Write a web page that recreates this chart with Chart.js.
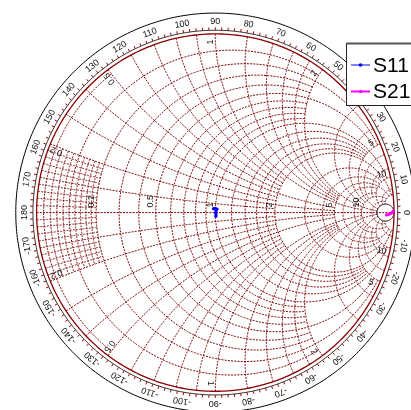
<!DOCTYPE html>
<html>
<head>
<meta charset="utf-8">
<script src="https://cdn.jsdelivr.net/npm/chart.js@4.4.1/dist/chart.umd.min.js"></script>
<style>
  html, body { margin: 0; padding: 0; background: #fff; overflow: hidden; }
  canvas { display: block; }
</style>
</head>
<body>
<canvas id="smith" width="411" height="410"></canvas>
<script>
// Constant-resistance circles and the |reactance| at which each one stops
const resistanceValues = [0.02, 0.04, 0.06, 0.08, 0.1, 0.12, 0.14, 0.16, 0.18, 0.2, 0.3, 0.4, 0.5, 0.6, 0.7, 0.8, 0.9, 1, 1.2, 1.4, 1.6, 1.8, 2, 3, 4, 5, 6, 8, 10, 15];
const resistanceLimits = [0.5, 0.2, 0.2, 0.2, 2, 0.2, 0.2, 0.2, 0.2, 5, 2, 2, 5, 2, 2, 2, 2, 10, 5, 5, 5, 5, 20, 10, 10, 20, 10, 10, 20, 20];

// Constant-reactance arcs (drawn for +x and -x) and the resistance at which each one stops
const reactanceValues = [0.02, 0.04, 0.06, 0.08, 0.1, 0.12, 0.14, 0.16, 0.18, 0.2, 0.3, 0.4, 0.5, 0.6, 0.7, 0.8, 0.9, 1, 1.2, 1.4, 1.6, 1.8, 2, 3, 4, 5, 6, 8, 10, 15, 20];
const reactanceLimits = [0.2, 0.2, 0.2, 0.2, 2, 0.2, 0.2, 0.2, 0.2, 5, 2, 2, 5, 2, 2, 2, 2, 10, 5, 5, 5, 5, 20, 10, 10, 20, 10, 10, 20, 20, 20];

// Resistance circle that closes the grid near the open-circuit point
const closingResistance = 20;

// Grid values that carry a label
const gridLabelValues = [0.2, 0.5, 1, 2, 5, 10];
const gridLabelTexts = ['0.2', '0.5', '1', '2', '5', '10'];

// Angle scale of the reflection coefficient, degrees
const angleTickValues = [0, 10, 20, 30, 40, 50, 60, 70, 80, 90, 100, 110, 120, 130, 140, 150, 160, 170, 180,
  -170, -160, -150, -140, -130, -120, -110, -100, -90, -80, -70, -60, -50, -40, -30, -20, -10];
const angleTickLabels = ['0', '10', '20', '30', '40', '50', '60', '70', '80', '90', '100', '110', '120', '130', '140', '150', '160', '170', '180',
  '-170', '-160', '-150', '-140', '-130', '-120', '-110', '-100', '-90', '-80', '-70', '-60', '-50', '-40', '-30', '-20', '-10'];

// Series names
const seriesNames = ['S11', 'S21'];

// Measured S-parameters (real and imaginary parts)
const s11Re = [-0.010, 0.000, 0.010, 0.004, 0.003, 0.003, 0.004, 0.003];
const s11Im = [0.022, 0.024, 0.020, 0.012, 0.004, -0.005, -0.013, -0.021];
const s21Re = [0.958, 0.968, 0.977, 0.985, 0.991, 0.995];
const s21Im = [-0.013, -0.011, -0.007, -0.003, 0.002, 0.008];

// Page layout: chart centre and unit-circle radius in pixels
const CX = 215.5, CY = 212.75, R = 182.25, W = 411, H = 410;

const GRID = 'rgb(125,0,0)';
const FONT = '"Liberation Sans", Arial, Helvetica, sans-serif';

// z = r + jx  ->  reflection coefficient
function gamma(r, x) {
  const a = r - 1, c = r + 1;
  const den = c * c + x * x;
  return [(a * c + x * x) / den, (x * c - a * x) / den];
}

const smithGrid = {
  id: 'smithGrid',
  beforeDatasetsDraw(chart) {
    const ctx = chart.ctx;
    const xs = chart.scales.x, ys = chart.scales.y;
    const P = (gx, gy) => [xs.getPixelForValue(gx), ys.getPixelForValue(gy)];

    function polyline(pts) {
      ctx.beginPath();
      pts.forEach((p, i) => {
        const q = P(p[0], p[1]);
        if (i === 0) ctx.moveTo(q[0], q[1]); else ctx.lineTo(q[0], q[1]);
      });
      ctx.stroke();
    }
    function circleArc(cx, cy, rho, a0, a1, n) {
      const pts = [];
      for (let i = 0; i <= n; i++) {
        const a = a0 + (a1 - a0) * i / n;
        pts.push([cx + rho * Math.cos(a), cy + rho * Math.sin(a)]);
      }
      return pts;
    }

    ctx.save();
    ctx.lineWidth = 1;
    ctx.strokeStyle = GRID;
    ctx.setLineDash([2, 1.2]);

    // resistance circles
    resistanceValues.forEach((r, i) => {
      const cr = r / (1 + r), rho = 1 / (1 + r);
      const g = gamma(r, resistanceLimits[i]);
      const a = Math.atan2(g[1], g[0] - cr);
      polyline(circleArc(cr, 0, rho, a, 2 * Math.PI - a, 240));
    });

    // reactance arcs
    reactanceValues.forEach((x, i) => {
      [1, -1].forEach(s => {
        const xv = s * x;
        const cy = 1 / xv, rho = 1 / x;
        const g0 = gamma(0, xv), g1 = gamma(reactanceLimits[i], xv);
        const a0 = Math.atan2(g0[1] - cy, g0[0] - 1);
        const a1 = Math.atan2(g1[1] - cy, g1[0] - 1);
        let d = a1 - a0;
        while (d > Math.PI) d -= 2 * Math.PI;
        while (d < -Math.PI) d += 2 * Math.PI;
        polyline(circleArc(1, cy, rho, a0, a0 + d, 160));
      });
    });

    // real axis
    polyline([[-1, 0], [1, 0]]);
    ctx.setLineDash([]);

    // closing circle near the open-circuit point
    ctx.strokeStyle = '#000';
    ctx.lineWidth = 1;
    const cc = closingResistance / (1 + closingResistance);
    polyline(circleArc(cc, 0, 1 / (1 + closingResistance), 0, 2 * Math.PI, 120));

    // unit circle
    ctx.strokeStyle = 'rgb(140,0,0)';
    ctx.lineWidth = 1.3;
    polyline(circleArc(0, 0, 1, 0, 2 * Math.PI, 360));

    // angle scale ring with ticks every 2 degrees
    const ringR = 186 / R, tickR = 189 / R;
    ctx.strokeStyle = '#000';
    ctx.lineWidth = 0.8;
    polyline(circleArc(0, 0, ringR, 0, 2 * Math.PI, 360));
    ctx.strokeStyle = 'rgb(160,0,0)';
    ctx.lineWidth = 1;
    for (let d = 0; d < 360; d += 2) {
      const a = d * Math.PI / 180;
      polyline([[ringR * Math.cos(a), ringR * Math.sin(a)], [tickR * Math.cos(a), tickR * Math.sin(a)]]);
    }

    // outer frame circle
    ctx.strokeStyle = '#000';
    ctx.lineWidth = 1;
    polyline(circleArc(0, 0, 203.5 / R, 0, 2 * Math.PI, 400));

    // angle labels
    ctx.fillStyle = '#111';
    ctx.font = '9px ' + FONT;
    ctx.textAlign = 'center';
    ctx.textBaseline = 'middle';
    const labR = 195 / R;
    angleTickValues.forEach((deg, i) => {
      const a = deg * Math.PI / 180;
      const q = P(labR * Math.cos(a), labR * Math.sin(a));
      ctx.save();
      ctx.translate(q[0], q[1]);
      ctx.rotate((90 - deg) * Math.PI / 180);
      ctx.fillText(angleTickLabels[i], 0, 0);
      ctx.restore();
    });

    // reactance labels just inside the unit circle
    const xlabR = 174 / R;
    gridLabelValues.forEach((v, i) => {
      [1, -1].forEach(s => {
        const th = s * (Math.PI - 2 * Math.atan(v));
        const tp = th + s * 1.5 * Math.PI / 180;
        const q = P(xlabR * Math.cos(tp), xlabR * Math.sin(tp));
        ctx.save();
        ctx.translate(q[0], q[1]);
        ctx.rotate(-th);
        ctx.fillText(gridLabelTexts[i], 0, 0);
        ctx.restore();
      });
    });

    // resistance labels along the real axis
    ctx.textAlign = 'left';
    gridLabelValues.forEach((v, i) => {
      const q = P((v - 1) / (v + 1), 0);
      ctx.save();
      ctx.translate(q[0] - 5, q[1] - 5);
      ctx.rotate(-Math.PI / 2);
      ctx.fillText(gridLabelTexts[i], 0, 0);
      ctx.restore();
    });

    ctx.restore();
  }
};

const smithLegend = {
  id: 'smithLegend',
  afterDatasetsDraw(chart) {
    const ctx = chart.ctx;
    ctx.save();
    const bx = 346.5, by = 43.5, bw = 80, bh = 62;
    ctx.fillStyle = '#fff';
    ctx.fillRect(bx, by, bw, bh);
    ctx.strokeStyle = '#222';
    ctx.lineWidth = 1;
    ctx.strokeRect(bx, by, bw, bh);
    ctx.strokeStyle = '#555';
    ctx.lineWidth = 2;
    ctx.beginPath();
    ctx.moveTo(bx, by);
    ctx.lineTo(bx + bw, by);
    ctx.stroke();

    const rows = [65, 91.5];
    chart.data.datasets.forEach((ds, i) => {
      const y = rows[i];
      ctx.strokeStyle = ds.borderColor;
      ctx.lineWidth = ds.borderWidth;
      ctx.beginPath();
      ctx.moveTo(351, y);
      ctx.lineTo(370, y);
      ctx.stroke();
      ctx.fillStyle = ds.borderColor;
      ctx.beginPath();
      ctx.arc(360.5, y, 1.8, 0, 2 * Math.PI);
      ctx.fill();
      ctx.fillStyle = '#000';
      ctx.font = '21px ' + FONT;
      ctx.textAlign = 'left';
      ctx.textBaseline = 'middle';
      ctx.fillText(ds.label, 373, y + 1);
    });
    ctx.restore();
  }
};

new Chart(document.getElementById('smith'), {
  type: 'scatter',
  data: {
    datasets: [
      {
        label: seriesNames[0],
        data: s11Re.map((v, i) => ({ x: v, y: s11Im[i] })),
        showLine: true,
        borderColor: '#0000ff',
        backgroundColor: '#0000ff',
        borderWidth: 1,
        pointRadius: 1.6,
        pointBorderWidth: 0
      },
      {
        label: seriesNames[1],
        data: s21Re.map((v, i) => ({ x: v, y: s21Im[i] })),
        showLine: true,
        borderColor: '#ff00ff',
        backgroundColor: '#ff00ff',
        borderWidth: 2,
        pointRadius: 1.6,
        pointBorderWidth: 0
      }
    ]
  },
  options: {
    responsive: false,
    animation: false,
    events: [],
    layout: { padding: 0 },
    scales: {
      x: { type: 'linear', display: false, min: -CX / R, max: (W - CX) / R },
      y: { type: 'linear', display: false, min: -(H - CY) / R, max: CY / R }
    },
    plugins: {
      legend: { display: false },
      tooltip: { enabled: false },
      title: { display: false }
    }
  },
  plugins: [smithGrid, smithLegend]
});
</script>
</body>
</html>
